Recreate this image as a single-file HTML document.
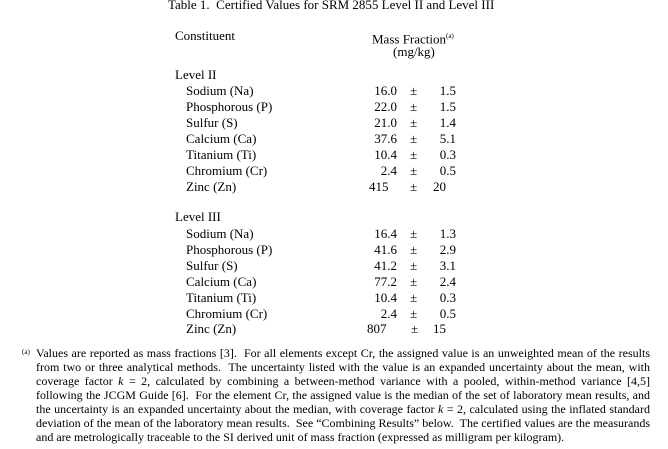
<!DOCTYPE html>
<html><head><style>
body{margin:0;width:668px;height:449px;background:#fff;position:relative;overflow:hidden;font-family:"Liberation Serif",serif;color:#000;}
.t{position:absolute;font-size:13px;line-height:16px;white-space:nowrap;}
.r{text-align:right;}
.fn{position:absolute;left:36px;width:614px;font-size:12px;line-height:14px;text-align:justify;text-align-last:justify;white-space:nowrap;}
</style></head><body>
<div class="t" style="left:168px;top:-3px;font-size:13px;">Table 1.&nbsp; Certified Values for SRM 2855 Level II and Level III</div>
<div class="t" style="left:175px;top:28px;">Constituent</div>
<div class="t" style="left:372px;top:28px;">Mass Fraction<sup style="font-size:7px">(a)</sup></div>
<div class="t" style="left:393px;top:44px;">(mg/kg)</div>
<div class="t" style="left:175px;top:67px;">Level II</div>
<div class="t" style="left:186px;top:83px;">Sodium (Na)</div>
<div class="t" style="left:186px;top:99px;">Phosphorous (P)</div>
<div class="t" style="left:186px;top:115px;">Sulfur (S)</div>
<div class="t" style="left:186px;top:131px;">Calcium (Ca)</div>
<div class="t" style="left:186px;top:147px;">Titanium (Ti)</div>
<div class="t" style="left:186px;top:163px;">Chromium (Cr)</div>
<div class="t" style="left:186px;top:179px;">Zinc (Zn)</div>
<div class="t r" style="left:340px;width:57px;top:83px;">16.0<br>22.0<br>21.0<br>37.6<br>10.4<br>2.4</div>
<div class="t" style="left:369px;top:179px;">415</div>
<div class="t" style="left:410px;top:83px;">±<br>±<br>±<br>±<br>±<br>±<br>±</div>
<div class="t r" style="left:420px;width:36px;top:83px;">1.5<br>1.5<br>1.4<br>5.1<br>0.3<br>0.5</div>
<div class="t" style="left:433px;top:179px;">20</div>
<div class="t" style="left:175px;top:209px;">Level III</div>
<div class="t" style="left:186px;top:226px;">Sodium (Na)</div>
<div class="t" style="left:186px;top:242px;">Phosphorous (P)</div>
<div class="t" style="left:186px;top:258px;">Sulfur (S)</div>
<div class="t" style="left:186px;top:274px;">Calcium (Ca)</div>
<div class="t" style="left:186px;top:290px;">Titanium (Ti)</div>
<div class="t" style="left:186px;top:306px;">Chromium (Cr)</div>
<div class="t" style="left:186px;top:321px;">Zinc (Zn)</div>
<div class="t r" style="left:340px;width:57px;top:226px;">16.4<br>41.6<br>41.2<br>77.2<br>10.4<br>2.4</div>
<div class="t" style="left:367px;top:321px;">807</div>
<div class="t" style="left:410px;top:226px;">±<br>±<br>±<br>±<br>±<br>±</div>
<div class="t" style="left:411px;top:321px;">±</div>
<div class="t r" style="left:420px;width:36px;top:226px;">1.3<br>2.9<br>3.1<br>2.4<br>0.3<br>0.5</div>
<div class="t" style="left:433px;top:321px;">15</div>
<div class="t" style="left:22px;top:344px;font-size:7px;">(a)</div>
<div class="fn" style="top:346px;">Values are reported as mass fractions [3].&nbsp; For all elements except Cr, the assigned value is an unweighted mean of the results</div>
<div class="fn" style="top:360px;">from two or three analytical methods.&nbsp; The uncertainty listed with the value is an expanded uncertainty about the mean, with</div>
<div class="fn" style="top:374px;">coverage factor <i>k</i> = 2, calculated by combining a between-method variance with a pooled, within-method variance [4,5]</div>
<div class="fn" style="top:388px;">following the JCGM Guide [6].&nbsp; For the element Cr, the assigned value is the median of the set of laboratory mean results, and</div>
<div class="fn" style="top:402px;">the uncertainty is an expanded uncertainty about the median, with coverage factor <i>k</i> = 2, calculated using the inflated standard</div>
<div class="fn" style="top:416px;">deviation of the mean of the laboratory mean results.&nbsp; See “Combining Results” below.&nbsp; The certified values are the measurands</div>
<div class="fn" style="top:430px;text-align-last:left;">and are metrologically traceable to the SI derived unit of mass fraction (expressed as milligram per kilogram).</div>
</body></html>
